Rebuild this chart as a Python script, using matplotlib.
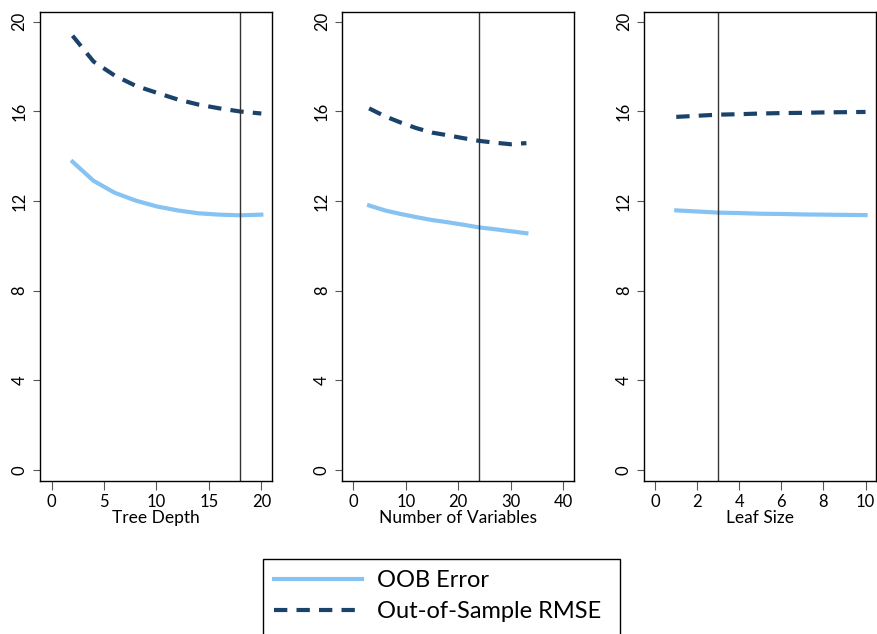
import matplotlib
matplotlib.use("Agg")
import matplotlib.pyplot as plt
from matplotlib.patches import Rectangle

plt.rcParams['font.family'] = ['Lato', 'DejaVu Sans']

# tree depth panel
depth = [2, 4, 6, 8, 10, 12, 14, 16, 18, 20]
depth_oob = [13.75, 12.9, 12.37, 12.02, 11.76, 11.58, 11.45, 11.39, 11.36, 11.39]
depth_rmse = [19.37, 18.22, 17.6, 17.14, 16.83, 16.53, 16.3, 16.13, 15.99, 15.9]

# number of variables panel
nvars = [3, 6, 9, 12, 15, 18, 21, 24, 27, 30, 33]
nvars_oob = [11.8, 11.58, 11.42, 11.28, 11.15, 11.05, 10.94, 10.82, 10.74, 10.65, 10.56]
nvars_rmse = [16.13, 15.78, 15.5, 15.25, 15.05, 14.93, 14.8, 14.68, 14.6, 14.53, 14.58]

# leaf size panel
leaf = [1, 2, 3, 4, 5, 6, 7, 8, 9, 10]
leaf_oob = [11.58, 11.53, 11.48, 11.46, 11.43, 11.42, 11.4, 11.39, 11.38, 11.37]
leaf_rmse = [15.75, 15.8, 15.85, 15.87, 15.9, 15.92, 15.93, 15.95, 15.96, 15.97]

chosen = [18, 24, 3]
xlabels = ['Tree Depth', 'Number of Variables', 'Leaf Size']
xticks = [[0, 5, 10, 15, 20], [0, 10, 20, 30, 40], [0, 2, 4, 6, 8, 10]]
xlims = [(-1.1, 21.0), (-2.1, 42.1), (-0.52, 10.5)]

light = '#86C3F3'
dark = '#1B426B'

fig = plt.figure(figsize=(8.78, 6.34), dpi=100)
lefts = [0.0456, 0.3899, 0.7338]
data = [(depth, depth_oob, depth_rmse), (nvars, nvars_oob, nvars_rmse), (leaf, leaf_oob, leaf_rmse)]

for i in range(3):
    ax = fig.add_axes([lefts[i], 0.2413, 0.264, 0.7402])
    x, oob, rmse = data[i]
    l1, = ax.plot(x, oob, color=light, lw=3, label='OOB Error')
    l2, = ax.plot(x, rmse, color=dark, lw=3, ls=(0, (3.2, 2.2)), label='Out-of-Sample RMSE')
    ax.axvline(chosen[i], color='#333333', lw=1)
    ax.set_ylim(-0.49, 20.44)
    ax.set_xlim(*xlims[i])
    ax.set_yticks([0, 4, 8, 12, 16, 20])
    ax.set_xticks(xticks[i])
    ax.tick_params(axis='both', labelsize=12, width=0.8, color='#555555')
    ax.tick_params(axis='x', length=6.5, pad=3)
    ax.tick_params(axis='y', length=5, pad=4)
    for lab in ax.get_yticklabels():
        lab.set_rotation(90)
        lab.set_va('center')
    ax.set_xlabel(xlabels[i], fontsize=12.5, labelpad=0)
    for s in ax.spines.values():
        s.set_linewidth(1)

# legend box runs off the bottom edge like in the original
fig.legend(handles=[l1, l2], loc='upper left', bbox_to_anchor=(0.2995, 0.118),
           fontsize=17, handlelength=3.75, handletextpad=0.64, labelspacing=0.45,
           borderpad=0.45, borderaxespad=0, frameon=False)
fig.patches.append(Rectangle((0.2995, -0.06), 0.4066, 0.178, transform=fig.transFigure,
                             fill=False, edgecolor='black', lw=1))

plt.savefig('out.png', dpi=100)
